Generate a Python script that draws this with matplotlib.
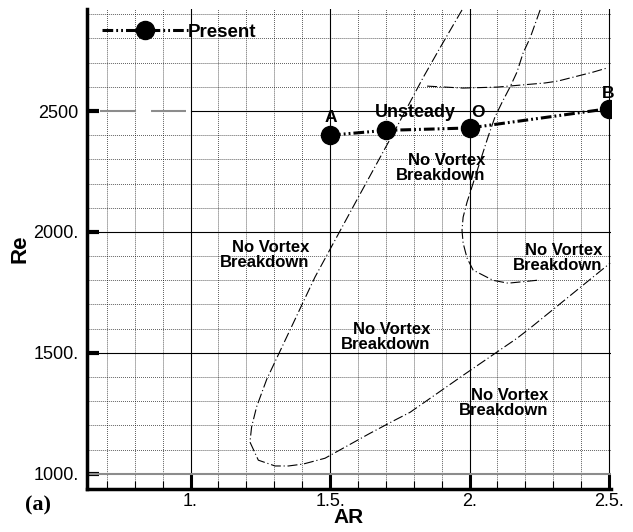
import matplotlib
matplotlib.use('Agg')
import matplotlib.pyplot as plt
from matplotlib.ticker import FixedLocator, MultipleLocator

plt.rcParams['font.family'] = 'Liberation Sans'

# present runs: A, intermediate case, O, B
present_ar = [1.5, 1.7, 2.0, 2.5]
present_re = [2400, 2420, 2430, 2510]

# U-shaped lower boundary (left branch runs up to the top of the map)
lower_ar = [1.973, 1.894, 1.833, 1.787, 1.733, 1.596, 1.446, 1.273, 1.237,
            1.219, 1.213, 1.243, 1.303, 1.351, 1.404, 1.482, 1.643, 1.733,
            1.787, 1.977, 2.170, 2.217, 2.504]
lower_re = [2918, 2761, 2637, 2537, 2421, 2132, 1813, 1390, 1277,
            1194, 1131, 1056, 1032, 1032, 1040, 1064, 1167, 1222,
            1254, 1407, 1560, 1602, 1871]

# middle boundary coming down from the top and bending to the right
middle_ar = [2.253, 2.217, 2.192, 2.170, 2.145, 2.117, 2.091, 2.066, 2.013,
             1.991, 1.977, 1.973, 1.977, 1.991, 2.013, 2.084, 2.138, 2.242]
middle_re = [2918, 2802, 2740, 2661, 2599, 2537, 2475, 2392, 2202,
             2123, 2061, 2007, 1954, 1892, 1842, 1800, 1788, 1800]

# upper boundary near Re = 2600
upper_ar = [1.848, 1.977, 2.099, 2.270, 2.317, 2.443, 2.493]
upper_re = [2603, 2595, 2599, 2616, 2624, 2661, 2678]

# region labels (right edge x, centre y)
region_ar = [1.425, 2.055, 2.475, 1.858, 2.281]
region_re = [1905, 2266, 1894, 1567, 1291]
region_text = 'No Vortex\nBreakdown'

x_ticks = [1.0, 1.5, 2.0, 2.5]
x_ticklabels = ['1.', '1.5.', '2.', '2.5.']
y_ticks = [1000, 1500, 2000, 2500]
y_ticklabels = ['1000.', '1500.', '2000.', '2500']

W, H = 633, 532
fig = plt.figure(figsize=(W / 100, H / 100), dpi=100)
ax = fig.add_axes([87 / W, 1 - 488.7 / H, 524 / W, 479.7 / H])
ax.set_xlim(0.629, 2.507)
ax.set_ylim(938, 2922)

# grid: solid majors, dotted minors
ax.xaxis.set_major_locator(FixedLocator(x_ticks))
ax.xaxis.set_minor_locator(MultipleLocator(0.1))
ax.yaxis.set_major_locator(FixedLocator(y_ticks))
ax.yaxis.set_minor_locator(MultipleLocator(100))
ax.set_xticklabels(x_ticklabels)
ax.set_yticklabels(y_ticklabels)
ax.grid(which='minor', color='black', linestyle=(0, (1, 1.6)), linewidth=0.55)
ax.grid(which='major', axis='x', color='black', linestyle='-', linewidth=0.8)
for yv in [1500, 2000]:
    ax.axhline(yv, color='black', linewidth=0.8, zorder=1)
ax.axhline(1000, color='0.55', linewidth=1.5, zorder=1)
ax.plot([1.0, 2.507], [2500, 2500], color='black', linewidth=0.8, zorder=1)
ax.plot([0.676, 0.984], [2500, 2500], color='0.55', linewidth=1.5,
        linestyle=(0, (17.3, 7.2, 17.3, 20)), zorder=1)
ax.set_axisbelow(True)

for s in ['top', 'right']:
    ax.spines[s].set_visible(False)
for s in ['left', 'bottom']:
    ax.spines[s].set_linewidth(2.5)

ax.tick_params(axis='x', which='major', direction='in', length=11, width=2.2,
               pad=3, labelsize=13)
ax.tick_params(axis='x', which='minor', direction='in', length=6, width=0.8)
ax.tick_params(axis='y', which='major', direction='in', length=8.5, width=3,
               pad=6, labelsize=13)
ax.tick_params(axis='y', which='minor', length=0)

# boundary curves
bstyle = dict(color='black', linewidth=0.8, linestyle=(0, (9, 2.5, 1, 2.5)))
ax.plot(lower_ar, lower_re, **bstyle)
ax.plot(middle_ar, middle_re, **bstyle)
ax.plot(upper_ar, upper_re, **bstyle)

# present results
ax.plot(present_ar, present_re, color='black', linewidth=2.2,
        linestyle=(0, (3.5, 1, 0.6, 1, 0.6, 1)), marker='o', markersize=13,
        markerfacecolor='black', markeredgecolor='black', label='Present',
        zorder=5)

ax.text(1.504, 2454, 'A', ha='center', va='baseline', fontsize=12.5,
        fontweight='bold')
ax.text(1.806, 2475, 'Unsteady', ha='center', va='baseline', fontsize=13,
        fontweight='bold')
ax.text(2.03, 2475, 'O', ha='center', va='baseline', fontsize=12.5,
        fontweight='bold')
ax.text(2.495, 2554, 'B', ha='center', va='baseline', fontsize=12.5,
        fontweight='bold')

for xr, yr in zip(region_ar, region_re):
    ax.text(xr, yr, region_text, ha='right', va='center', multialignment='right',
            fontsize=12, fontweight='bold', linespacing=1.0)

ax.legend(loc='center left', bbox_to_anchor=(0.0286, 0.952),
          frameon=False, handlelength=4.6, handletextpad=0.0,
          borderpad=0, borderaxespad=0, numpoints=1,
          prop={'size': 13.5, 'weight': 'bold'})

ax.set_xlabel('AR', fontsize=15, fontweight='bold', labelpad=-1)
ax.set_ylabel('Re', fontsize=16, fontweight='bold', labelpad=2)
fig.text(25 / W, 1 - 505 / H, '(a)', ha='left', va='center', fontsize=16,
         fontweight='bold', family='Liberation Serif')

fig.savefig('out.png', dpi=100)
